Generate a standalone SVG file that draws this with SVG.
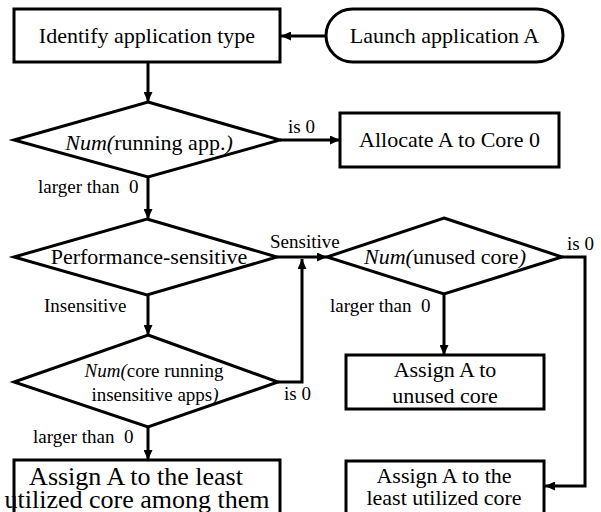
<svg xmlns="http://www.w3.org/2000/svg" width="601" height="512" viewBox="0 0 601 512">
<style>
.shape{fill:#fff;stroke:#000;stroke-width:3}
.conn{fill:none;stroke:#000;stroke-width:3}
text{font-family:'Liberation Serif',serif;fill:#000}
.t{font-size:22px;text-anchor:middle}
.s{font-size:19px}
.m{font-size:19px;text-anchor:middle}
.b{font-size:26px;text-anchor:middle}
.i{font-style:italic}
</style>
<defs>
<marker id="arr" markerUnits="userSpaceOnUse" markerWidth="11" markerHeight="9" refX="10" refY="4.5" orient="auto">
<path d="M0,0 L10,4.5 L0,9 z" fill="#000"/>
</marker>
</defs>
<g id="connectors">
<line class="conn" x1="326" y1="36" x2="281" y2="36" marker-end="url(#arr)"/>
<line class="conn" x1="148" y1="62" x2="148" y2="102" marker-end="url(#arr)"/>
<line class="conn" x1="280" y1="140" x2="340" y2="140" marker-end="url(#arr)"/>
<line class="conn" x1="148" y1="177" x2="148" y2="219" marker-end="url(#arr)"/>
<line class="conn" x1="277" y1="257" x2="327" y2="257" marker-end="url(#arr)"/>
<line class="conn" x1="148" y1="295" x2="148" y2="335" marker-end="url(#arr)"/>
<polyline class="conn" points="278,382 302,382 302,259" marker-end="url(#arr)"/>
<line class="conn" x1="444" y1="294" x2="444" y2="355" marker-end="url(#arr)"/>
<polyline class="conn" points="562,257 585,257 585,486 545,486" marker-end="url(#arr)"/>
<line class="conn" x1="148" y1="427" x2="148" y2="460" marker-end="url(#arr)"/>
<text class="s" x="288" y="133">is 0</text>
<text class="s" x="38" y="193" xml:space="preserve">larger than  0</text>
<text class="s" x="270" y="248">Sensitive</text>
<text class="s" x="567" y="250">is 0</text>
<text class="s" x="44" y="312">Insensitive</text>
<text class="s" x="330" y="312" xml:space="preserve">larger than  0</text>
<text class="s" x="284" y="400">is 0</text>
<text class="s" x="33" y="443" xml:space="preserve">larger than  0</text>
</g>
<g id="launch">
<rect class="shape" x="326" y="9" width="237" height="53" rx="26.5" ry="26.5"/>
<text class="t" x="444.5" y="43">Launch application A</text>
</g>
<g id="identify">
<rect class="shape" x="14" y="9" width="266" height="53"/>
<text class="t" x="147" y="43">Identify application type</text>
</g>
<g id="num-running">
<polygon class="shape" points="148,102 280,140 148,177 14,140"/>
<text class="t" x="149" y="150"><tspan class="i">Num(</tspan>running app.<tspan class="i">)</tspan></text>
</g>
<g id="allocate">
<rect class="shape" x="340" y="113" width="219" height="54"/>
<text class="t" x="449.5" y="147">Allocate A to Core 0</text>
</g>
<g id="perf">
<polygon class="shape" points="147,219 277,257 147,295 14,257"/>
<text class="t" x="149" y="264">Performance-sensitive</text>
</g>
<g id="num-unused">
<polygon class="shape" points="444,218 562,257 444,294 327,257"/>
<text class="t" x="445" y="264"><tspan class="i">Num(</tspan>unused core<tspan class="i">)</tspan></text>
</g>
<g id="num-insens">
<polygon class="shape" points="148,335 278,382 148,427 14,382"/>
<text class="m" x="154" y="377"><tspan class="i">Num(</tspan>core running</text>
<text class="m" x="155" y="401">insensitive apps<tspan class="i">)</tspan></text>
</g>
<g id="assign-unused">
<rect class="shape" x="346" y="355" width="198" height="54"/>
<text class="t" x="445" y="377">Assign A to</text>
<text class="t" x="445" y="403">unused core</text>
</g>
<g id="assign-least-among">
<rect class="shape" x="14" y="460" width="266" height="60"/>
<text class="b" x="136" y="485">Assign A to the least</text>
<text class="b" x="137" y="508">utilized core among them</text>
</g>
<g id="assign-least">
<rect class="shape" x="346" y="461" width="198" height="60"/>
<text class="t" x="444" y="483">Assign A to the</text>
<text class="t" x="444" y="505">least utilized core</text>
</g>
</svg>
